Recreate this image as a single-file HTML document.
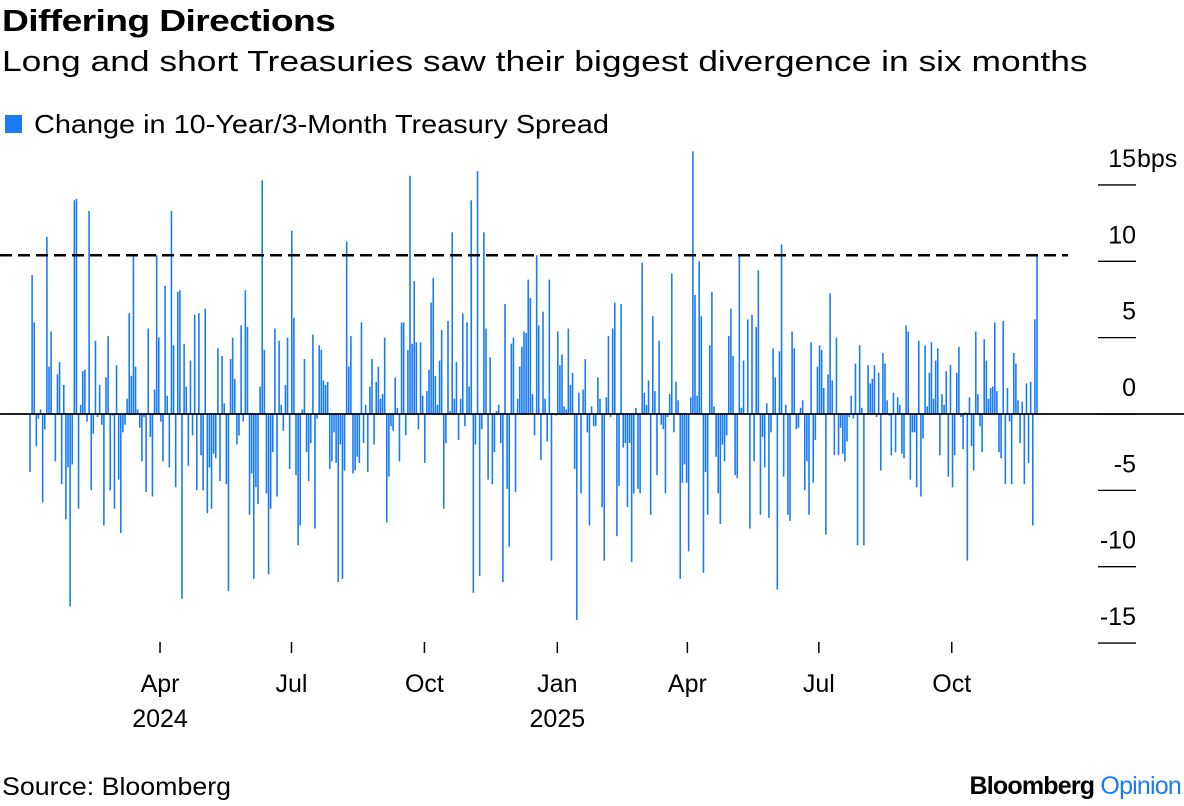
<!DOCTYPE html>
<html><head><meta charset="utf-8">
<style>
body{margin:0;background:#fff;font-family:"Liberation Sans",sans-serif;}
#wrap{position:relative;width:1184px;height:806px;overflow:hidden;}
.t{position:absolute;white-space:nowrap;color:#000;transform-origin:0 0;}
</style></head>
<body>
<div id="wrap">
<div class="t" style="left:2px;top:3px;font-size:31px;font-weight:bold;letter-spacing:-0.5px;transform:scaleX(1.2);">Differing Directions</div>
<div class="t" style="left:2px;top:46px;font-size:29px;transform:scaleX(1.22);">Long and short Treasuries saw their biggest divergence in six months</div>
<div style="position:absolute;left:5px;top:115px;width:17px;height:18px;background:#1a7cf5;"></div>
<div class="t" style="left:34px;top:109px;font-size:26px;transform:scaleX(1.11);">Change in 10-Year/3-Month Treasury Spread</div>
<svg id="chart" width="1184" height="806" style="position:absolute;left:0;top:0;"></svg>
<div class="t" style="left:2px;top:773px;font-size:25px;transform:scaleX(1.07);">Source: Bloomberg</div>
<div class="t" style="right:3px;top:772px;font-size:25px;font-weight:bold;letter-spacing:-0.8px;">Bloomberg <span style="color:#1a7cf5;font-weight:normal;">Opinion</span></div>
</div>
<script>
const values = [
-3.8,9.1,6,-2.1,-0.3,0.3,-5.8,-1,11.6,3.1,5.4,0,-3.1,2.6,3.4,-4.6,1.9,-6.9,-3.5,-12.6,-3.3,14,14.1,-6.2,0.6,2.8,2.9,-0.5,13.3,-5,-1.3,4.8,-0.2,1.9,-0.7,-7.3,2.4,5.1,-5,-0.1,-6.2,3.2,-4.3,-7.8,-1.2,-0.7,1,6.6,2.5,10.4,3.1,0.3,-0.9,-3.1,-0.2,-5.1,5.6,-1.5,-5.4,1.6,10.4,5,-0.5,-3.1,8.4,1.2,-3.5,13.3,4.5,-4.8,8,8.1,-12.1,4.6,1.8,-3.4,3.5,-1.4,6.5,-5,
6.6,-2.7,-5,6.9,-6.5,-3.5,-6.2,-2.6,-2.9,4.3,-4.4,3.8,0.7,-4.6,-11.6,3.6,5,2.3,-2,-1.4,5.8,-0.5,8.1,5.7,-6.6,-3.9,-10.8,-4.8,-5.9,1.8,15.3,4.2,-5.2,-10.5,-6.2,-2.5,5.6,-5.4,4.8,0.6,-1.1,1.9,5,-3.6,12,6.3,-4,-8.6,-7.3,0.3,3.6,-2.5,-4.4,-1.9,5.2,-7.5,-0.3,4.5,4.2,2.2,1.9,2.1,-3.6,-3.1,-1.2,-3.2,-11,-2,-10.8,-3.7,11.3,3.1,5.1,-3.9,-3.7,-2.8,-3.2,6,-1.9,0.6,-3.8,1.8,3.6,
-2,2.1,3.1,1,1.3,5,-7.1,-4.1,-0.8,-1.1,2.4,0.4,-3.1,6,6,-1.4,4.2,15.6,4.6,8.7,4.7,-1,4.7,1.2,-3.2,1.5,2.9,7.3,8.9,2.5,0.6,3.5,5.5,-6.2,-1.9,6.1,0.2,11.9,1,3.4,-1.7,1,6.6,-0.8,6,1.8,14,-11.7,-2,15.9,-10.6,-1,11.9,5.6,-4.3,3.7,-4.6,-2.5,0.2,0.6,-1.9,-11,7.2,-4.9,-8.7,4.6,5,-5.1,1,3.1,4.4,5.4,5.3,8.8,7.6,1.3,-1.4,10.4,5.8,
-3,6.7,1,-1.8,8.8,-9.6,0,-0.1,5.4,3.2,3.9,0.5,0.3,5.6,1.9,2.7,-3.6,-13.5,1.4,-5.2,1.6,3.6,-1.2,-7.3,0.5,-0.8,-0.8,2.4,1,-6.1,-9.6,1.1,5.1,-0.2,5.6,7.3,-8,-4.7,7.2,-2.2,-1.9,-6.1,-1.9,-9.7,-5.2,0.4,-4.9,-5.2,9.9,1.4,0.6,2.2,-6.6,6.4,1.5,-4,4.8,-0.7,-1,-5.2,-0.2,1.3,9.2,-1.2,2.1,0.9,-10.8,-4.5,-3.3,-4.5,-9,1.1,17.2,7.8,1.2,10,6.4,-10.4,-3.8,-6.6,
4.5,8,0.5,-2.8,-5.2,-7.2,-2,-3.1,-1.4,5.1,6.9,3.8,-4,-4.2,10.4,0.4,3.5,0,6.2,-7.5,6.5,-3.1,5.7,9.4,-6.6,-1.5,-3.5,0.7,-6.8,-1.2,4.3,2.4,-11.5,4.1,11.1,-4.1,0.6,-6.6,-7,5.4,4.3,-1,-0.9,0.4,0.9,-5,-3.1,-6.6,4.7,-4.5,-1.7,3.1,4.5,4.2,1.7,-7.9,2.6,7.9,2.2,-2.7,5,-2.7,-0.9,-2.6,-3.1,-1.8,-0.2,1.2,-0.3,3.3,-8.6,4.5,0.4,-8.6,0,3.2,2,2.3,3.2,-0.2,2.7,
-3.7,4,3.3,0.9,-0.1,-2.7,1.4,-2.5,1.1,0.6,-2.6,-2.9,5.8,5.4,-4.3,-1.2,-1.2,-4.8,4.8,-5.4,-1.6,4.5,0.5,2.7,4.7,1,3.5,4.3,-2.7,1.3,0.6,2.8,-4.1,3.2,-4.8,-2.7,2.7,4.4,-0.2,-2.3,0.1,-9.6,1.1,-2.1,-3.7,5.4,1.3,-0.8,-2.5,4.9,3.5,1,1.7,1.8,6,1.5,-2.5,-2.9,6.1,-4.6,1.7,-0.5,-4.6,4,3.3,0.9,-1.9,0.8,-4.6,2,-3.2,2.1,-7.3,6.2,10.4
];
const yTicks = [15,10,5,0,-5,-10,-15];
const yTickLabels = ["15","10","5","0","-5","-10","-15"];
const xTickDates = ["2024-04-01","2024-07-01","2024-10-01","2025-01-01","2025-04-01","2025-07-01","2025-10-01"];
const xTickLabels = ["Apr","Jul","Oct","Jan","Apr","Jul","Oct"];
const xYearLabels = ["2024","","","2025","","",""];
const threshold = 10.4;
const startDate = "2024-01-02", endDate = "2025-11-29";

const NS="http://www.w3.org/2000/svg";
const svg=document.getElementById('chart');
const y = v => 414 - v*15.27;
const xi = i => 30 + i*(1007/(values.length-1));
const t0=Date.parse(startDate), t1=Date.parse(endDate);
const xd = d => 30 + (Date.parse(d)-t0)/(t1-t0)*1007;
function mk(tag,attrs){const e=document.createElementNS(NS,tag);for(const k in attrs)e.setAttribute(k,attrs[k]);svg.appendChild(e);return e;}

yTicks.forEach((v,i)=>{
  const g=mk('line',{x1:1098,x2:1136,y1:y(v),y2:y(v),stroke:'#000','stroke-width':1.3});
  
  
  const t=mk('text',{x:1136,y:y(v)-18,'text-anchor':'end','font-size':25,'font-family':'Liberation Sans, sans-serif'});
  t.textContent=yTickLabels[i];
  
  
});
const unit=mk('text',{x:1137,y:y(15)-18,'font-size':25,'font-family':'Liberation Sans, sans-serif'});
unit.textContent='bps';



values.forEach((v,i)=>{
  const r=mk('rect',{x:xi(i)-0.8,y:Math.min(y(v),y(0)),width:1.6,height:Math.abs(y(v)-y(0)),fill:'#1a7cf5'});
  
  
});
const z=mk('line',{x1:0,x2:1184,y1:y(0),y2:y(0),stroke:'#000','stroke-width':1.8});


const d=mk('line',{x1:0,x2:1068,y1:y(threshold),y2:y(threshold),stroke:'#000','stroke-width':2.5,'stroke-dasharray':'12,6'});



xTickDates.forEach((dt,i)=>{
  const x=xd(dt);
  const tk=mk('line',{x1:x,x2:x,y1:642,y2:653,stroke:'#000','stroke-width':1.5});
  
  
  const t=mk('text',{x:x,y:692,'text-anchor':'middle','font-size':25,'font-family':'Liberation Sans, sans-serif'});
  t.textContent=xTickLabels[i];
  
  
  if(xYearLabels[i]){
    const yl=mk('text',{x:x,y:727,'text-anchor':'middle','font-size':25,'font-family':'Liberation Sans, sans-serif'});
    yl.textContent=xYearLabels[i];
    
    
  }
});
</script>
</body></html>
